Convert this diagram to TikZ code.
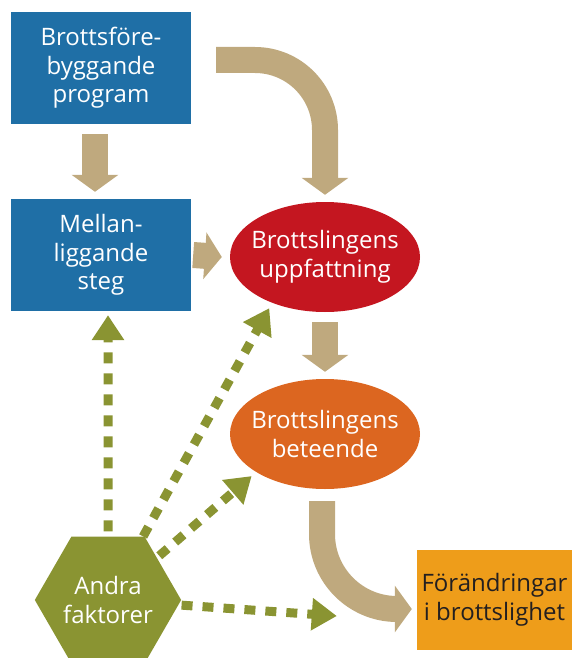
\documentclass[tikz,border=0pt]{standalone}
\usepackage{fontspec}
\setmainfont{Open Sans}
\usetikzlibrary{shapes.geometric,arrows.meta}
\definecolor{progblue}{RGB}{31,111,166}
\definecolor{uppfred}{RGB}{196,22,32}
\definecolor{betorange}{RGB}{220,102,32}
\definecolor{forandorange}{RGB}{238,157,26}
\definecolor{flowtan}{RGB}{191,169,126}
\definecolor{andragreen}{RGB}{138,148,50}
\definecolor{darktext}{RGB}{35,31,32}

\begin{document}
\begin{tikzpicture}[x=1pt,y=-1pt,
  txt/.style={inner sep=0pt,align=center,text=white,font=\fontsize{24}{28.5}\selectfont},
  bluebox/.style={txt,rectangle,fill=progblue,minimum width=180pt,minimum height=112pt},
  oval/.style={txt,ellipse,inner xsep=-12pt,minimum width=190pt,minimum height=110pt},
  tanarrow/.style={draw=flowtan,line width=26pt,-{Triangle[width=46pt,length=17pt]}},
  greenarrow/.style={draw=andragreen,line width=9pt,dash pattern=on 11pt off 10pt,-{Triangle[width=31pt,length=25pt]}}]
\useasboundingbox (0,0) rectangle (572,658);
\node (prog) at (101,68) [bluebox] {Brottsföre-\\byggande\\program};
\node (mellan) at (101,255) [bluebox] {Mellan-\\liggande\\steg};
\node (uppf) at (325,257) [oval,fill=uppfred] {Brottslingens\\uppfattning};
\node (beteende) at (325,434) [oval,fill=betorange] {Brottslingens\\beteende};
\node (forand) at (494.5,600) [txt,rectangle,fill=forandorange,text=darktext,minimum width=155pt,minimum height=100pt] {Förändringar\\i brottslighet};
\node (andra) at (108,600) [txt,regular polygon,regular polygon sides=6,fill=andragreen,minimum size=145pt] {Andra\\faktorer};
\draw[tanarrow,rounded corners=70pt] ([shift={(25,-8)}]prog.east) -| ([yshift=7pt]uppf.north);
\draw[tanarrow] ([shift={(-6,10)}]prog.south) -- ([shift={(-6,-7)}]mellan.north);
\draw[tanarrow] ([xshift=2pt]mellan.east) -- ([xshift=-8pt]uppf.west);
\draw[tanarrow] ([yshift=-10pt]uppf.south) -- ([yshift=7pt]beteende.north);
\draw[tanarrow,rounded corners=75pt] ([shift={(-3,12)}]beteende.south) |- ([shift={(-5,9)}]forand.west);
\draw[greenarrow] ([yshift=5pt]andra.north) -- ([shift={(7,4)}]mellan.south);
\draw[greenarrow,shorten >=6pt] (andra) -- (uppf.221);
\draw[greenarrow,shorten <=3pt,shorten >=6pt] (andra) -- (beteende.209);
\draw[greenarrow,shorten <=3pt] (andra) -- ([shift={(-80,16)}]forand.west);
\end{tikzpicture}
\end{document}
